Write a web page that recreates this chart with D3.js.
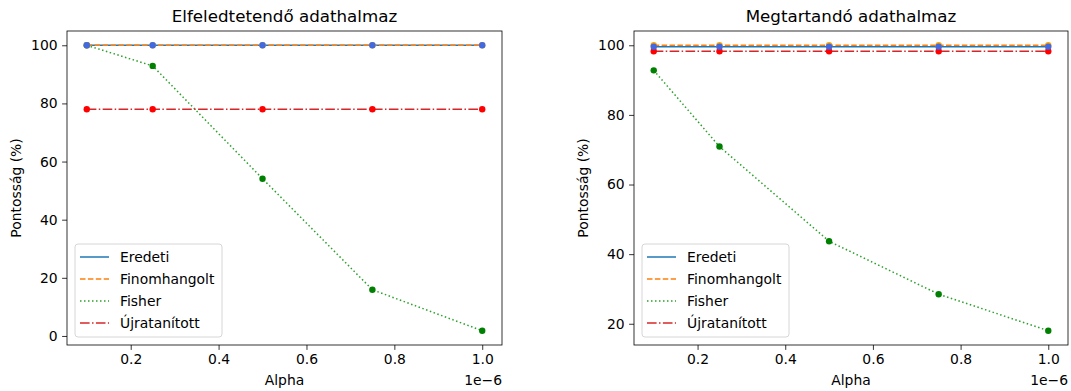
<!DOCTYPE html>
<html><head><meta charset="utf-8">
<script src="https://cdn.jsdelivr.net/npm/d3@7"></script>
<style>body{margin:0;background:#fff}svg{display:block;font-family:"DejaVu Sans",sans-serif}</style>
</head><body><svg id="c" width="1071" height="391"></svg>
<script>
const alphas = [1e-7, 2.5e-7, 5e-7, 7.5e-7, 1e-6];
const seriesNames = ["Eredeti", "Finomhangolt", "Fisher", "Újratanított"];
const titles = ["Elfeledtetendő adathalmaz", "Megtartandó adathalmaz"];
// left panel (forget set)
const forgetEredeti = [100, 100, 100, 100, 100];
const forgetFinom = [100, 100, 100, 100, 100];
const forgetFisher = [100, 92.9, 54.1, 15.9, 1.8];
const forgetUjra = [78, 78, 78, 78, 78];
// right panel (retain set)
const retainEredeti = [99.6, 99.6, 99.6, 99.6, 99.6];
const retainFinom = [100, 100, 100, 100, 100];
const retainFisher = [92.8, 70.9, 43.7, 28.5, 18];
const retainUjra = [98.3, 98.3, 98.3, 98.3, 98.3];
const xTicks = [2e-7, 4e-7, 6e-7, 8e-7, 1e-6];
const xTickLabels = ["0.2", "0.4", "0.6", "0.8", "1.0"];
const yTicksLeft = [0, 20, 40, 60, 80, 100];
const yTicksRight = [20, 40, 60, 80, 100];

const lineColors = ["#1f77b4", "#ff7f0e", "#2ca02c", "#d62728"];
const markerColors = ["#4169e1", "#ffa500", "#008000", "#ff0000"];
const dashes = [null, "5.5,2.4", "1.5,2.5", "9.6,2.4,1.5,2.4"];
const FS = 13.9;

const svg = d3.select("#c");
const panels = [
  {x0: 67, x1: 502, data: [forgetEredeti, forgetFinom, forgetFisher, forgetUjra], yt: yTicksLeft, title: titles[0]},
  {x0: 634, x1: 1068, data: [retainEredeti, retainFinom, retainFisher, retainUjra], yt: yTicksRight, title: titles[1]}
];
const plotTop = 31, plotBottom = 345;

panels.forEach((p, pi) => {
  const xmin = d3.min(alphas), xmax = d3.max(alphas), xr = xmax - xmin;
  const x = d3.scaleLinear().domain([xmin - 0.05 * xr, xmax + 0.05 * xr]).range([p.x0, p.x1]);
  const all = p.data.flat();
  const ymin = d3.min(all), ymax = d3.max(all), yr = ymax - ymin;
  const y = d3.scaleLinear().domain([ymin - 0.05 * yr, ymax + 0.05 * yr]).range([plotBottom, plotTop]);
  const g = svg.append("g");

  const xa = g.append("g").attr("transform", `translate(0,${plotBottom})`)
    .call(d3.axisBottom(x).tickValues(xTicks).tickFormat((d, i) => xTickLabels[i]).tickSize(4.9).tickPadding(4.5));
  const ya = g.append("g").attr("transform", `translate(${p.x0},0)`)
    .call(d3.axisLeft(y).tickValues(p.yt).tickFormat(d3.format("d")).tickSize(4.9).tickPadding(4.5));
  [xa, ya].forEach(a => {
    a.select(".domain").remove();
    a.selectAll("text").attr("font-size", FS).attr("fill", "#000").attr("font-family", "DejaVu Sans");
    a.selectAll("line").attr("stroke", "#000").attr("stroke-width", 0.8);
  });

  const line = d3.line().x((d, i) => x(alphas[i])).y(d => y(d));
  p.data.forEach((s, si) => {
    g.append("path").datum(s).attr("d", line).attr("fill", "none")
      .attr("stroke", lineColors[si]).attr("stroke-width", 1.5)
      .attr("stroke-dasharray", dashes[si]);
  });
  [3, 2, 1, 0].forEach(si => {
    g.selectAll(null).data(p.data[si]).enter().append("circle")
      .attr("cx", (d, i) => x(alphas[i])).attr("cy", d => y(d)).attr("r", 3.2)
      .attr("fill", markerColors[si]);
  });

  g.append("rect").attr("x", p.x0).attr("y", plotTop).attr("width", p.x1 - p.x0).attr("height", plotBottom - plotTop)
    .attr("fill", "none").attr("stroke", "#000").attr("stroke-width", 0.8);

  g.append("text").attr("x", (p.x0 + p.x1) / 2).attr("y", 22).attr("text-anchor", "middle")
    .attr("font-size", 16.7).text(p.title);
  g.append("text").attr("x", (p.x0 + p.x1) / 2).attr("y", 385).attr("text-anchor", "middle")
    .attr("font-size", FS).text("Alpha");
  g.append("text").attr("x", p.x1).attr("y", 385).attr("text-anchor", "end")
    .attr("font-size", FS).text("1e\u22126");
  g.append("text").attr("transform", `translate(${p.x0 - 46},${(plotTop + plotBottom) / 2}) rotate(-90)`)
    .attr("text-anchor", "middle").attr("font-size", FS).text("Pontosság (%)");

  const lx = p.x0 + 8, ly = 244;
  const lg = g.append("g");
  lg.append("rect").attr("x", lx).attr("y", ly).attr("width", 147).attr("height", 93)
    .attr("rx", 3).attr("fill", "#fff").attr("fill-opacity", 0.8).attr("stroke", "#d6d6d6").attr("stroke-width", 1);
  seriesNames.forEach((n, si) => {
    const cy = ly + 13 + si * 22;
    lg.append("line").attr("x1", lx + 5).attr("x2", lx + 34).attr("y1", cy).attr("y2", cy)
      .attr("stroke", lineColors[si]).attr("stroke-width", 1.5).attr("stroke-dasharray", dashes[si]);
    lg.append("text").attr("x", lx + 45).attr("y", cy + 5).attr("font-size", FS).text(n);
  });
});
</script></body></html>
